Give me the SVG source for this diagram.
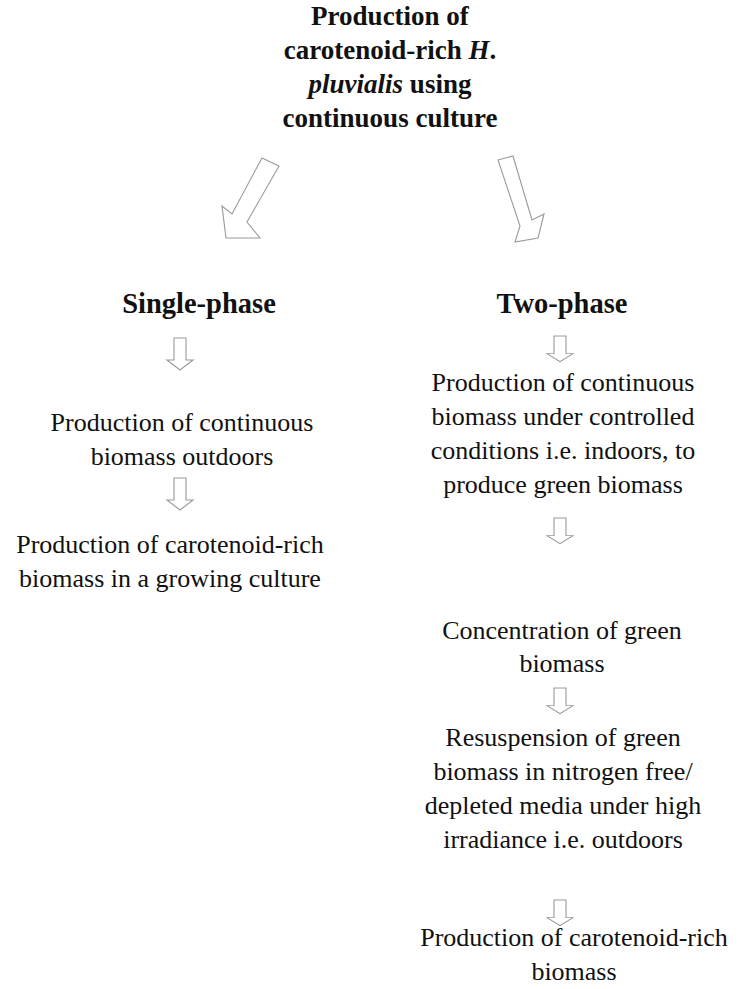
<svg xmlns="http://www.w3.org/2000/svg" width="739" height="989" viewBox="0 0 739 989">
<defs>
<style>
.t{font-family:"Liberation Serif",serif;fill:#111;text-anchor:middle}
.h{font-size:27px;font-weight:bold}
.s{font-size:28.5px;font-weight:bold}
.b{font-size:26px}
.a{fill:none;stroke:#999;stroke-width:1.1}
</style>
<path id="da" d="M-6,0 L6,0 L6,22 L13,22 L0,32 L-13,22 L-6,22 Z"/>
</defs>
<rect width="739" height="989" fill="#fff"/>
<g id="title" class="t h">
<text x="390" y="25">Production of</text>
<text x="390" y="59">carotenoid-rich  <tspan font-style="italic">H</tspan>.</text>
<text x="390" y="93"><tspan font-style="italic">pluvialis</tspan> using</text>
<text x="390" y="127">continuous culture</text>
</g>
<g id="connectors">
<path class="a" d="M262,158 L279,166 L247,222 L260,238 L226,238 L222,206 L232,214 Z"/>
<path class="a" d="M498,160 L513,156 L532,220 L544,214 L538,238 L515,242 L520,226 Z"/>
<use href="#da" class="a" transform="translate(180,338)"/>
<use href="#da" class="a" transform="translate(560,336) scale(1,0.8)"/>
<use href="#da" class="a" transform="translate(180,478)"/>
<use href="#da" class="a" transform="translate(560,518) scale(1,0.8)"/>
<use href="#da" class="a" transform="translate(560,688) scale(1,0.8)"/>
<use href="#da" class="a" transform="translate(560,900) scale(1,0.8)"/>
</g>
<g id="single" class="t s"><text x="199" y="313">Single-phase</text></g>
<g id="two" class="t s"><text x="562" y="313">Two-phase</text></g>
<g id="s1" class="t b">
<text x="182" y="431">Production of continuous</text>
<text x="182" y="465">biomass outdoors</text>
</g>
<g id="s2" class="t b">
<text x="170" y="553">Production of carotenoid-rich</text>
<text x="170" y="587">biomass in a growing culture</text>
</g>
<g id="t1" class="t b">
<text x="563" y="391">Production of continuous</text>
<text x="563" y="425">biomass  under controlled</text>
<text x="563" y="459">conditions i.e. indoors, to</text>
<text x="563" y="493">produce green biomass</text>
</g>
<g id="t2" class="t b">
<text x="562" y="639">Concentration of green</text>
<text x="562" y="672">biomass</text>
</g>
<g id="t3" class="t b">
<text x="563" y="746">Resuspension of green</text>
<text x="563" y="780">biomass in nitrogen free/</text>
<text x="563" y="814">depleted media under high</text>
<text x="563" y="848">irradiance i.e. outdoors</text>
</g>
<g id="t4" class="t b">
<text x="574" y="946">Production of carotenoid-rich</text>
<text x="574" y="980">biomass</text>
</g>
</svg>
